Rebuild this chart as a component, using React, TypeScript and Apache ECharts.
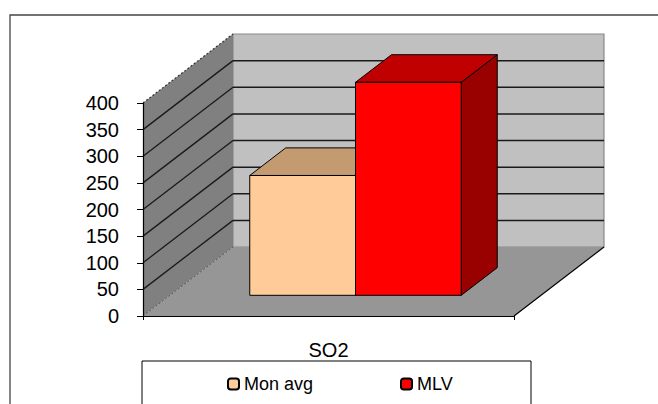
import React, { useEffect, useRef } from "react";
import * as echarts from "echarts";

const categories = ["SO2"];
const seriesNames = ["Mon avg", "MLV"];
const monAvg = [225];
const mlv = [400];
const yTicks = [0, 50, 100, 150, 200, 250, 300, 350, 400];

const FRONT = ["#FFCC99", "#FF0000"];
const TOP = ["#C49B70", "#C00000"];
const SIDE = ["#9C7A5B", "#990000"];

const DX = 90;
const DY = -69;
const BAR_FRONT = 0.3;
const BAR_DEPTH = 0.4;
const BAR_W = 0.285;
const FONT = "Liberation Sans, Arial, sans-serif";

function frameItem(params: any, api: any) {
  const cs = params.coordSys;
  const x = cs.x;
  const w = cs.width;
  const yOf = (v: number) => api.coord([0, v])[1];
  const y0 = yOf(yTicks[0]);
  const yTop = yOf(yTicks[yTicks.length - 1]);
  const children: any[] = [];
  children.push({
    type: "rect",
    shape: { x: x + DX, y: yTop + DY, width: w, height: y0 - yTop },
    style: { fill: "#C0C0C0", stroke: "#8a8a8a", lineWidth: 1.2 },
  });
  children.push({
    type: "polygon",
    shape: { points: [[x, yTop], [x + DX, yTop + DY], [x + DX, y0 + DY], [x, y0]] },
    style: { fill: "#808080" },
  });
  children.push({
    type: "polygon",
    shape: { points: [[x, y0], [x + DX, y0 + DY], [x + w + DX, y0 + DY], [x + w, y0]] },
    style: { fill: "#969696" },
  });
  for (let i = 1; i < yTicks.length - 1; i++) {
    const yy = yOf(yTicks[i]);
    children.push({
      type: "line",
      shape: { x1: x + DX, y1: yy + DY, x2: x + w + DX, y2: yy + DY },
      style: { stroke: "#1a1a1a", lineWidth: 1.5 },
    });
    children.push({
      type: "line",
      shape: { x1: x, y1: yy, x2: x + DX, y2: yy + DY },
      style: { stroke: "#1a1a1a", lineWidth: 1.3 },
    });
  }
  children.push({
    type: "line",
    shape: { x1: x, y1: yTop, x2: x + DX, y2: yTop + DY },
    style: { stroke: "#333", lineWidth: 1.2, lineDash: [2, 2] },
  });
  children.push({
    type: "line",
    shape: { x1: x, y1: y0, x2: x + DX, y2: y0 + DY },
    style: { stroke: "#555", lineWidth: 1, lineDash: [2, 2] },
  });
  children.push({
    type: "line",
    shape: { x1: x + w, y1: y0, x2: x + w + DX, y2: y0 + DY },
    style: { stroke: "#000", lineWidth: 1.2 },
  });
  return { type: "group", children };
}

function barItem(idx: number) {
  return (params: any, api: any) => {
    const c = api.value(0);
    const v = api.value(1);
    const base = api.coord([c, 0]);
    const top = api.coord([c, v]);
    const bw = api.size([1, 0])[0] * BAR_W;
    const ox = DX * BAR_FRONT;
    const oy = DY * BAR_FRONT;
    const dx = DX * BAR_DEPTH;
    const dy = DY * BAR_DEPTH;
    const left = base[0] - bw + idx * bw + ox;
    const right = left + bw;
    const yt = top[1] + oy;
    const yb = base[1] + oy;
    const stroke = { stroke: "#000", lineWidth: 1 };
    return {
      type: "group",
      children: [
        {
          type: "polygon",
          shape: { points: [[right, yt], [right + dx, yt + dy], [right + dx, yb + dy], [right, yb]] },
          style: { fill: SIDE[idx], ...stroke },
        },
        {
          type: "polygon",
          shape: { points: [[left, yt], [left + dx, yt + dy], [right + dx, yt + dy], [right, yt]] },
          style: { fill: TOP[idx], ...stroke },
        },
        {
          type: "rect",
          shape: { x: left, y: yt, width: bw, height: yb - yt },
          style: { fill: FRONT[idx], ...stroke },
        },
      ],
    };
  };
}

export default function App() {
  const ref = useRef<HTMLDivElement>(null);
  useEffect(() => {
    if (!ref.current) return;
    const chart = echarts.init(ref.current, null, { renderer: "svg" });
    const legendBase = {
      top: 375,
      itemWidth: 11,
      itemHeight: 11,
      padding: 0,
      itemGap: 0,
      selectedMode: false,
      textStyle: { fontSize: 18, color: "#000", fontFamily: FONT },
    };
    chart.setOption({
      animation: false,
      backgroundColor: "#fff",
      grid: { left: 143, right: 144, top: 103, bottom: 88 },
      xAxis: {
        type: "category",
        data: categories,
        z: 10,
        axisLine: { show: true, lineStyle: { color: "#000", width: 1.2 } },
        axisTick: { show: true, length: 4, alignWithLabel: false, lineStyle: { color: "#000" } },
        axisLabel: { fontSize: 20, color: "#000", fontFamily: FONT, margin: 24 },
      },
      yAxis: {
        type: "value",
        min: yTicks[0],
        max: yTicks[yTicks.length - 1],
        interval: 50,
        z: 10,
        splitLine: { show: false },
        axisLine: { show: true, lineStyle: { color: "#000", width: 1.2 } },
        axisTick: { show: true, length: 6, lineStyle: { color: "#000" } },
        axisLabel: { fontSize: 20, color: "#000", fontFamily: FONT, margin: 24 },
      },
      legend: [
        {
          ...legendBase,
          left: 227,
          data: [{ name: seriesNames[0], itemStyle: { color: FRONT[0], borderColor: "#000", borderWidth: 2 } }],
        },
        {
          ...legendBase,
          left: 400,
          data: [{ name: seriesNames[1], itemStyle: { color: FRONT[1], borderColor: "#000", borderWidth: 2 } }],
        },
      ],
      graphic: [
        {
          type: "rect",
          z: -10,
          shape: { x: 10, y: 15, width: 720, height: 450 },
          style: { fill: "none", stroke: "#444", lineWidth: 1.3 },
          silent: true,
        },
        {
          type: "rect",
          z: -5,
          shape: { x: 142, y: 361, width: 389, height: 80 },
          style: { fill: "#fff", stroke: "#000", lineWidth: 1 },
          silent: true,
        },
      ],
      series: [
        {
          name: "frame",
          type: "custom",
          silent: true,
          z: 1,
          data: [[0, 0]],
          encode: { x: 0, y: 1 },
          renderItem: frameItem,
        },
        {
          name: seriesNames[0],
          type: "custom",
          z: 2,
          itemStyle: { color: FRONT[0] },
          data: monAvg.map((v, i) => [i, v]),
          encode: { x: 0, y: 1 },
          renderItem: barItem(0),
        },
        {
          name: seriesNames[1],
          type: "custom",
          z: 3,
          itemStyle: { color: FRONT[1] },
          data: mlv.map((v, i) => [i, v]),
          encode: { x: 0, y: 1 },
          renderItem: barItem(1),
        },
      ],
    });
    return () => chart.dispose();
  }, []);
  return (
    <div
      ref={ref}
      style={{ position: "fixed", left: 0, top: 0, width: 658, height: 404 }}
    />
  );
}
